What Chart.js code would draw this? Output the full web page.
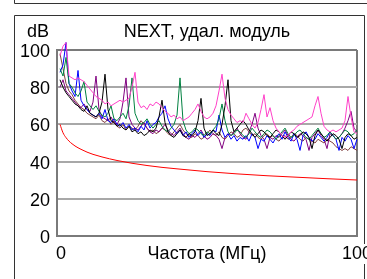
<!DOCTYPE html>
<html>
<head>
<meta charset="utf-8">
<script src="https://cdn.jsdelivr.net/npm/chart.js@4"></script>
<style>
  html, body { margin: 0; padding: 0; background: #fff; }
  canvas { display: block; }
</style>
</head>
<body>
<canvas id="myChart" width="367" height="279"></canvas>
<script>
const freq = [1,2,3,4,5,6,7,8,9,10, 11,12,13,14,15,16,17,18,19,20,
  21,22,23,24,25,26,27,28,29,30, 31,32,33,34,35,36,37,38,39,40,
  41,42,43,44,45,46,47,48,49,50, 51,52,53,54,55,56,57,58,59,60,
  61,62,63,64,65,66,67,68,69,70, 71,72,73,74,75,76,77,78,79,80,
  81,82,83,84,85,86,87,88,89,90, 91,92,93,94,95,96,97,98,99,100];

const pairPink = [97,102,104,86,85,84,85,84,83,81, 79,77,75,74,73,71,72,70,71,72,
  73,72,73,74,80,88,72,69,70,68, 71,70,72,71,69,67,66,64,65,63,
  64,62,63,64,66,68,71,67,64,63, 64,66,70,78,87,74,68,65,63,61,
  62,61,66,63,60,58,61,68,76,64, 69,62,58,56,54,53,54,56,57,59,
  60,61,62,63,64,70,75,66,59,57, 56,57,56,57,58,62,75,64,56,55];

const pairBlue = [88,92,104,82,78,75,89,73,70,68, 66,65,64,66,63,68,62,61,63,60,
  59,61,58,60,57,58,56,59,57,62, 58,60,61,64,66,70,63,59,57,55,
  57,54,56,53,55,57,54,56,53,55, 54,57,56,65,57,53,55,52,54,51,
  53,52,54,51,55,53,47,52,51,54, 52,50,53,55,52,56,53,51,55,52,
  46,54,56,53,51,52,55,53,51,53, 56,54,52,46,53,51,54,52,47,52];

const pairGreen = [90,86,96,82,80,77,75,78,83,72, 70,68,70,67,65,64,66,70,63,62,
  64,66,63,70,85,66,62,60,61,63, 60,58,60,62,59,57,56,58,60,65,
  85,62,57,55,56,58,57,55,54,56, 55,57,59,63,71,62,56,54,55,57,
  56,54,53,55,58,56,54,53,55,57, 56,54,52,54,56,58,55,53,54,56,
  57,55,53,52,54,56,58,55,53,54, 56,54,52,53,55,57,56,54,55,57];

const pairBlack = [84,80,77,75,73,71,70,68,67,70, 66,65,64,66,72,87,68,62,61,59,
  60,58,57,59,56,57,55,56,54,55, 57,56,58,64,73,61,56,54,53,55,
  57,54,53,55,54,56,62,74,58,54, 55,57,55,54,60,70,84,62,56,58,
  60,62,60,57,55,53,55,57,56,54, 53,55,57,56,54,52,54,56,55,53,
  54,56,55,53,47,54,57,55,53,51, 53,55,54,52,47,53,55,54,52,53];

const pairPurple = [80,84,78,76,74,72,70,69,71,68, 67,72,86,68,64,63,62,64,61,60,
  63,72,85,64,60,58,57,59,61,58, 56,55,57,56,58,60,57,55,54,56,
  58,55,53,52,54,53,55,57,54,52, 53,55,54,52,47,53,55,54,56,58,
  55,53,52,56,60,66,58,54,52,47, 53,52,54,53,55,57,54,52,51,53,
  55,54,52,46,53,55,57,54,52,47, 55,54,52,53,55,58,62,67,58,56];

const pairBrown = [98,90,82,78,76,73,71,69,68,66, 65,64,63,65,62,61,63,60,62,59,
  58,60,57,59,58,57,59,62,60,58, 56,57,55,56,58,57,55,54,56,58,
  60,57,55,54,53,55,54,52,53,55, 57,55,54,56,53,52,54,56,55,53,
  54,57,58,56,54,55,53,52,54,55, 53,54,52,51,53,54,52,53,55,54,
  52,51,53,52,51,50,52,51,50,52, 51,50,48,47,46,47,46,48,47,46];

const limitFreq = [1,2,3,4,5,6,8,10,12,15,20,25,30,35,40,50,60,70,80,90,100];
const limitDb = [60,55.5,52.9,51.0,49.6,48.4,46.6,45.1,43.9,42.5,40.6,39.1,37.9,36.9,36.1,34.6,33.4,32.4,31.6,30.8,30.1];

const yTicks = [0, 20, 40, 60, 80, 100];
const xTickLabels = ['0', '100'];
const chartTitle = 'NEXT, удал. модуль';
const unitLabel = 'dB';
const xTitle = 'Частота (МГц)';

const FONT = 'Arial, "Liberation Sans", sans-serif';
const BORDER = '#7a7a7a';
const GRID = '#a8a8a8';

function pts(values) {
  return freq.map((f, i) => ({ x: f, y: values[i] }));
}

function pairSet(values, color) {
  return {
    data: pts(values),
    borderColor: color,
    backgroundColor: color,
    borderWidth: 1,
    pointRadius: 0,
    tension: 0,
    clip: false
  };
}

const frame = {
  id: 'frame',
  beforeDraw(chart) {
    const c = chart.ctx;
    c.save();
    c.strokeStyle = '#333';
    c.lineWidth = 1;
    c.beginPath();
    // top strip
    c.moveTo(14.5, 0); c.lineTo(14.5, 3.5); c.lineTo(367, 3.5);
    // main box
    c.moveTo(14.5, 279); c.lineTo(14.5, 15.5); c.lineTo(364.5, 15.5); c.lineTo(364.5, 279);
    c.stroke();
    c.restore();
  },
  afterDraw(chart) {
    const c = chart.ctx;
    const a = chart.chartArea;
    const xs = chart.scales.x;
    const mid = (a.left + a.right) / 2;
    c.save();
    c.fillStyle = '#000';
    c.font = '18px ' + FONT;
    c.textBaseline = 'middle';
    c.textAlign = 'center';
    c.fillText(chartTitle, mid, 32);
    c.fillText(xTitle, mid, 254);
    c.textAlign = 'right';
    c.fillText(unitLabel, 49, 32);
    c.textAlign = 'left';
    c.fillText(xTickLabels[0], xs.getPixelForValue(0) - 1, 254);
    // the last label sits on an opaque box over the frame line
    const x100 = xs.getPixelForValue(100);
    const w = c.measureText(xTickLabels[1]).width;
    c.fillStyle = '#fff';
    c.fillRect(x100 - w / 2 - 1, 244, w + 2, 20);
    c.fillStyle = '#000';
    c.textAlign = 'center';
    c.fillText(xTickLabels[1], x100, 254);
    c.restore();
  }
};

const data = {
  datasets: [
    pairSet(pairPink, 'rgb(255,64,200)'),
    pairSet(pairBlack, '#000000'),
    pairSet(pairGreen, 'rgb(0,128,64)'),
    pairSet(pairBlue, '#0000ff'),
    pairSet(pairPurple, 'rgb(128,0,128)'),
    pairSet(pairBrown, 'rgb(128,64,64)'),
    {
      data: limitFreq.map((f, i) => ({ x: f, y: limitDb[i] })),
      borderColor: '#ff0000',
      borderWidth: 1,
      pointRadius: 0,
      cubicInterpolationMode: 'monotone'
    }
  ]
};

const config = {
  type: 'line',
  data: data,
  options: {
    responsive: false,
    animation: false,
    layout: { padding: { left: 12, top: 50, right: 10, bottom: 43 } },
    plugins: {
      legend: { display: false },
      tooltip: { enabled: false },
      title: { display: false }
    },
    scales: {
      x: {
        type: 'linear',
        min: 0,
        max: 100,
        ticks: { display: false, stepSize: 100 },
        grid: { color: BORDER, lineWidth: 2, drawTicks: false },
        border: { color: BORDER, width: 2 },
        afterFit: s => { s.height = 0; }
      },
      y: {
        min: 0,
        max: 100,
        afterBuildTicks: s => { s.ticks = yTicks.map(v => ({ value: v })); },
        ticks: {
          font: { family: FONT, size: 18 },
          color: '#000',
          padding: 7,
          labelOffset: 2
        },
        grid: {
          color: ctx => (ctx.tick && ctx.tick.value === 100 ? BORDER : GRID),
          lineWidth: 2,
          drawTicks: false
        },
        border: { color: BORDER, width: 2 },
        afterFit: s => { s.width = 45; }
      }
    }
  },
  plugins: [frame]
};

const myChart = new Chart(document.getElementById('myChart'), config);
</script>
</body>
</html>
